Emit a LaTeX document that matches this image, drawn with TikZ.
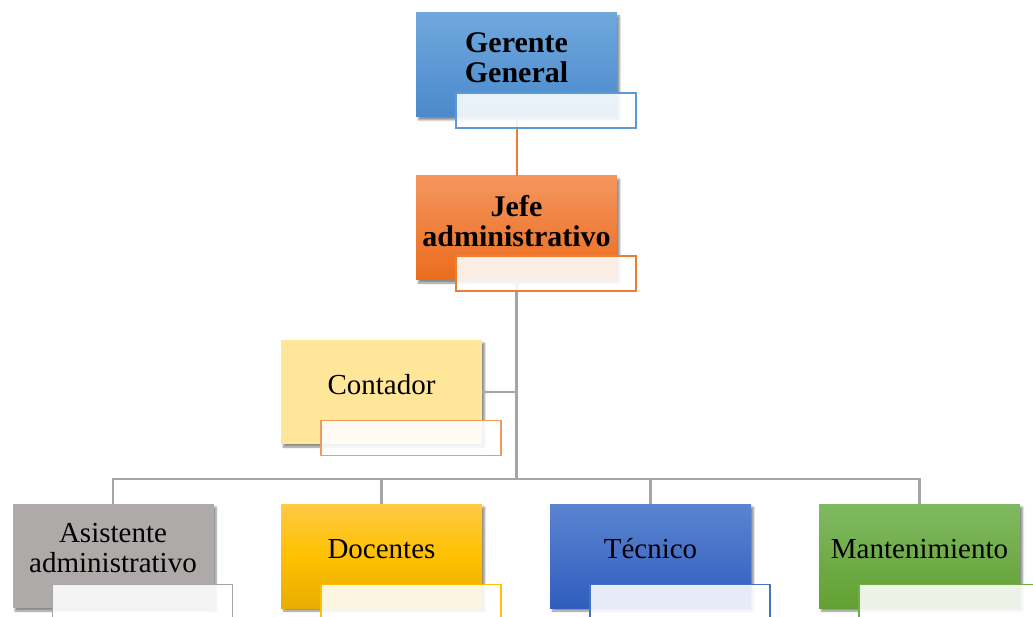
\documentclass[tikz,border=0pt]{standalone}
\usepackage{fontspec}
\setmainfont{Liberation Serif}
\usetikzlibrary{shadows.blur,calc}
\definecolor{gerTop}{HTML}{70A8DD}
\definecolor{gerBot}{HTML}{4A89CC}
\definecolor{gerLine}{HTML}{5B9BD5}
\definecolor{jefTop}{HTML}{F4965E}
\definecolor{jefBot}{HTML}{EB6C1C}
\definecolor{orLine}{HTML}{ED7D31}
\definecolor{contFill}{HTML}{FFE699}
\definecolor{contLine}{HTML}{F19A5E}
\definecolor{asisFill}{HTML}{AEAAAA}
\definecolor{grLine}{HTML}{A5A5A5}
\definecolor{docTop}{HTML}{FFCA45}
\definecolor{docMid}{HTML}{FFC000}
\definecolor{docBot}{HTML}{E8AE00}
\definecolor{docLine}{HTML}{FFC000}
\definecolor{tecTop}{HTML}{5B84D0}
\definecolor{tecBot}{HTML}{305EBE}
\definecolor{tecLine}{HTML}{4472C4}
\definecolor{manTop}{HTML}{7FBA62}
\definecolor{manBot}{HTML}{62A032}
\definecolor{manLine}{HTML}{70AD47}
\definecolor{conn}{HTML}{A5A5A5}
\tikzset{
  orgbox/.style={rectangle, minimum width=201pt, minimum height=104pt, inner sep=0pt,
    blur shadow={shadow xshift=2.5pt, shadow yshift=-3pt, shadow blur steps=6, shadow opacity=45}},
  overlay box/.style={rectangle, minimum width=180pt, minimum height=35pt, inner sep=0pt,
    fill=white, fill opacity=0.88, draw opacity=1, line width=1.4pt},
  boldtxt/.style={font=\fontsize{30}{30}\selectfont\bfseries, align=center, text=black},
  normtxt/.style={font=\fontsize{29}{30}\selectfont, align=center, text=black},
  grayconn/.style={draw=conn, line width=2.8pt},
  orconn/.style={draw=orLine, line width=2pt}
}
\begin{document}
\begin{tikzpicture}[x=1pt,y=-1pt]
\useasboundingbox (0,0) rectangle (1033,617);
% positions of boxes
\coordinate (pg) at (516.5,65);
\coordinate (pj) at (516.5,228);
\coordinate (pc) at (381.5,392);
\coordinate (bus) at (516.5,479);
% main boxes (shapes only)
\node[orgbox, top color=gerTop, bottom color=gerBot] (g) at (pg) {};
\node[orgbox, top color=jefTop, bottom color=jefBot] (j) at (pj) {};
\node[orgbox, fill=contFill] (c) at (pc) {};
\node[orgbox, fill=asisFill] (b1) at (113,556) {};
\node[orgbox, top color=docTop, bottom color=docBot, middle color=docMid] (b2) at (381.5,556) {};
\node[orgbox, top color=tecTop, bottom color=tecBot] (b3) at (650.5,556) {};
\node[orgbox, top color=manTop, bottom color=manBot] (b4) at (919.5,556) {};
% connectors
\draw[orconn] (g.south) -- (j.north);
\draw[grayconn] (j.south) -- (bus);
\draw[grayconn] (c.east) -- (c.east -| bus);
\draw[grayconn] (bus) -| (b1.north);
\draw[grayconn] (bus) -| (b2.north);
\draw[grayconn] (bus) -| (b3.north);
\draw[grayconn] (bus) -| (b4.north);
% texts
\node[boldtxt] (tg) at ($(g.center)+(0,-7)$) {Gerente\\General};
\node[boldtxt] (tj) at ($(j.center)+(0,-7)$) {Jefe\\administrativo};
\node[normtxt] (tc) at ($(c.center)+(0,-7)$) {Contador};
\node[normtxt] (t1) at ($(b1.center)+(0,-8)$) {Asistente\\administrativo};
\node[normtxt] (t2) at ($(b2.center)+(0,-7)$) {Docentes};
\node[normtxt] (t3) at ($(b3.center)+(0,-7)$) {Técnico};
\node[normtxt] (t4) at ($(b4.center)+(0,-7)$) {Mantenimiento};
% overlay text boxes
\node[overlay box, draw=gerLine] (og) at ($(g.south west)+(130,-6.5)$) {};
\node[overlay box, draw=orLine] (oj) at ($(j.south west)+(130,-6.5)$) {};
\node[overlay box, draw=contLine] (oc) at ($(c.south west)+(130,-6.5)$) {};
\node[overlay box, draw=grLine] (o1) at ($(b1.south west)+(130,-6.5)$) {};
\node[overlay box, draw=docLine] (o2) at ($(b2.south west)+(130,-6.5)$) {};
\node[overlay box, draw=tecLine] (o3) at ($(b3.south west)+(130,-6.5)$) {};
\node[overlay box, draw=manLine] (o4) at ($(b4.south west)+(130,-6.5)$) {};
\end{tikzpicture}
\end{document}
